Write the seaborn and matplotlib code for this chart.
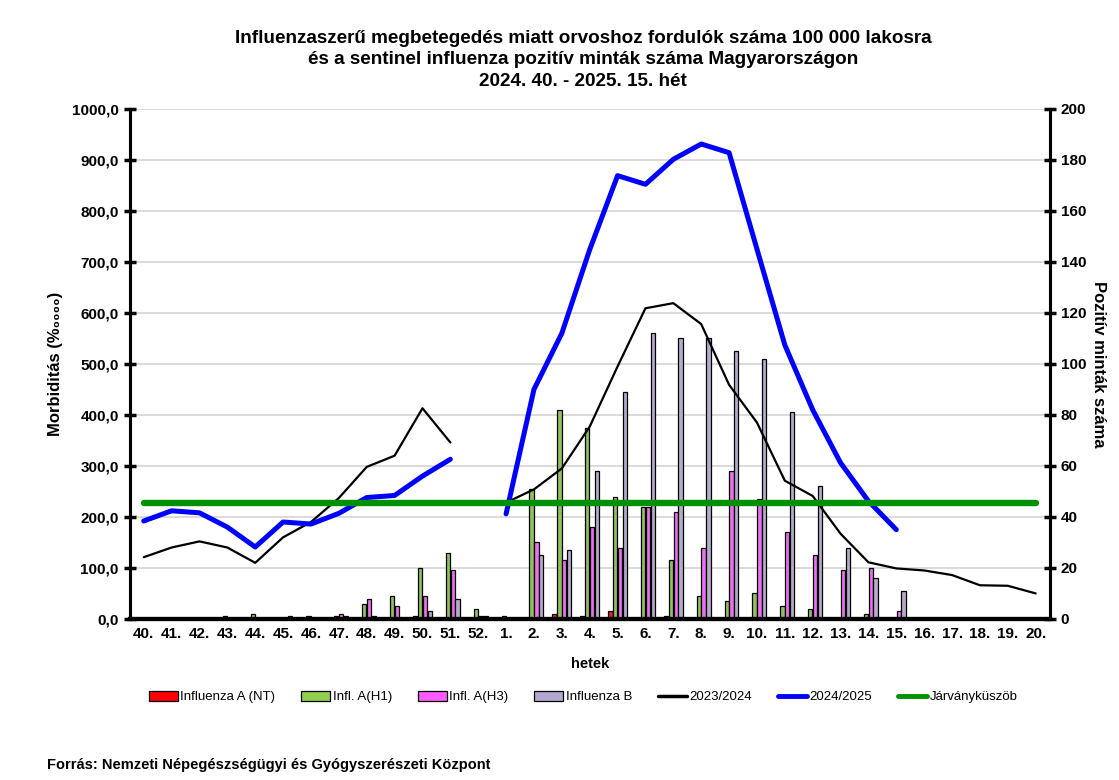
import numpy as np
import pandas as pd
import matplotlib
matplotlib.use("Agg")
import matplotlib.pyplot as plt
import seaborn as sns
from matplotlib.lines import Line2D
from matplotlib.patches import Patch
from matplotlib.ticker import FuncFormatter, MultipleLocator, FixedLocator

nan = np.nan

# weeks 2024.40 - 2025.20
weeks = [f"{w}." for w in list(range(40, 53)) + list(range(1, 21))]

# positive sentinel samples (right axis)
infl_a_nt = [0, 0, 0, 0, 0, 0, 0, 0, 0, 0, 1, 0, 0,
             0, 0, 2, 1, 3, 0, 1, 0, 0, 0, 0, 0, 0, 0, 0, 0, 0, 0, 0, 0]
infl_a_h1 = [0, 0, 0, 1, 2, 0, 1, 1, 6, 9, 20, 26, 4,
             1, 51, 82, 75, 48, 44, 23, 9, 7, 10, 5, 4, 0, 2, 0, 0, 0, 0, 0, 0]
infl_a_h3 = [0, 0, 0, 0, 0, 0, 0, 2, 8, 5, 9, 19, 1,
             0, 30, 23, 36, 28, 44, 42, 28, 58, 47, 34, 25, 19, 20, 3, 0, 0, 0, 0, 0]
infl_b = [0, 0, 0, 0, 0, 1, 0, 1, 1, 0, 3, 8, 1,
          0, 25, 27, 58, 89, 112, 110, 110, 105, 102, 81, 52, 28, 16, 11, 0, 0, 0, 0, 0]

# morbidity per 100 000 (left axis)
season_2324 = [121, 140, 152, 140, 110, 160, 190, 237, 298, 320, 413, 346, nan,
               228, 254, 295, 377, 495, 609, 619, 578, 459, 385, 271, 241, 167,
               111, 99, 95, 86, 66, 65, 50]
season_2425 = [192, 212, 208, 180, 141, 190, 186, 207, 238, 242, 280, 313, nan,
               206, 450, 560, 724, 869, 852, 901, 931, 914, 725, 537, 410, 306,
               231, 175, nan, nan, nan, nan, nan]
threshold = [227.5] * len(weeks)

bar_names = ["Influenza A (NT)", "Infl. A(H1)", "Infl. A(H3)", "Influenza B"]
bar_colors = ["#ff0000", "#92d050", "#ff5cff", "#b3a6cf"]

bars = pd.DataFrame({
    "week": weeks * 4,
    "type": np.repeat(bar_names, len(weeks)),
    "count": infl_a_nt + infl_a_h1 + infl_a_h3 + infl_b,
})

sns.set_style("white")
plt.rcParams["font.family"] = ["Liberation Sans", "DejaVu Sans"]
plt.rcParams.update({"text.color": "black", "axes.labelcolor": "black",
                     "xtick.color": "black", "ytick.color": "black"})

fig = plt.figure(figsize=(11.19, 7.80), dpi=100)
ax = fig.add_axes([0.116, 0.2065, 0.822, 0.654])
ax2 = ax.twinx()

sns.barplot(data=bars, x="week", y="count", hue="type", order=weeks,
            hue_order=bar_names, palette=bar_colors, width=0.69, gap=0.1,
            edgecolor="black", linewidth=0.9, legend=False, ax=ax2)

pos = np.arange(len(weeks))
ax.plot(pos, season_2324, color="black", lw=1.6, zorder=3)
ax.plot(pos, season_2425, color="#0000ff", lw=3.6, zorder=4)
ax.plot(pos, threshold, color="#009000", lw=4.6, zorder=5)

ax.set_zorder(ax2.get_zorder() + 1)
ax.patch.set_visible(False)

ax.set_xlim(-0.5, len(weeks) - 0.5)
ax.set_ylim(0, 1000)
ax2.set_ylim(0, 200)

ax2.yaxis.grid(True, color="#d4d4d4", lw=1.2)
ax2.set_axisbelow(True)
ax2.yaxis.set_major_locator(MultipleLocator(20))
ax.yaxis.set_major_locator(MultipleLocator(100))
ax.yaxis.set_major_formatter(FuncFormatter(lambda v, p: f"{v:.1f}".replace(".", ",")))

ax.set_xticks(pos)
ax.set_xticklabels(weeks)
ax.xaxis.set_minor_locator(FixedLocator(np.arange(0.5, len(weeks) - 1, 1)))
ax.tick_params(axis="x", which="major", length=0, pad=6)
ax.tick_params(axis="x", which="minor", direction="inout", length=9, width=2.5, color="black")
ax.tick_params(axis="y", direction="inout", length=9, width=2.5, color="black")
ax2.tick_params(axis="y", direction="inout", length=9, width=2.5, color="black")

for a in (ax, ax2):
    for lab in a.get_xticklabels() + a.get_yticklabels():
        lab.set_fontweight("bold")
        lab.set_fontsize(11)
    a.spines["top"].set_visible(False)
    a.spines["left"].set_linewidth(2.2)
    a.spines["right"].set_linewidth(2.2)
    a.spines["bottom"].set_linewidth(3)
    for s in a.spines.values():
        s.set_color("black")

ax.set_xlabel("hetek", fontsize=10.5, fontweight="bold", labelpad=11)
ax.set_ylabel("Morbiditás (%₀₀₀₀)", fontsize=12, fontweight="bold", labelpad=6)
ax2.set_ylabel("Pozitív minták száma", fontsize=12, fontweight="bold",
               rotation=270, labelpad=14)

fig.text(0.521, 1 - 60 / 780,
         "Influenzaszerű megbetegedés miatt orvoshoz fordulók száma 100 000 lakosra\n"
         "és a sentinel influenza pozitív minták száma Magyarországon\n"
         "2024. 40. - 2025. 15. hét",
         ha="center", va="center", fontsize=13.6, fontweight="bold", linespacing=1.38)

handles = [Patch(facecolor=c, edgecolor="black", lw=0.9) for c in bar_colors]
handles += [Line2D([], [], color="black", lw=2.5),
            Line2D([], [], color="#0000ff", lw=3.5),
            Line2D([], [], color="#009000", lw=3.5)]
labels = bar_names + ["2023/2024", "2024/2025", "Járványküszöb"]
fig.legend(handles, labels, loc="center", bbox_to_anchor=(0.521, 1 - 697 / 780),
           ncol=7, frameon=False, fontsize=9.5, handlelength=2.2, handleheight=0.8,
           handletextpad=0.2, columnspacing=1.95)

fig.text(0.042, 1 - 765 / 780,
         "Forrás: Nemzeti Népegészségügyi és Gyógyszerészeti Központ",
         ha="left", va="center", fontsize=10.5, fontweight="bold")

fig.savefig("out.png", dpi=100, facecolor="white")
